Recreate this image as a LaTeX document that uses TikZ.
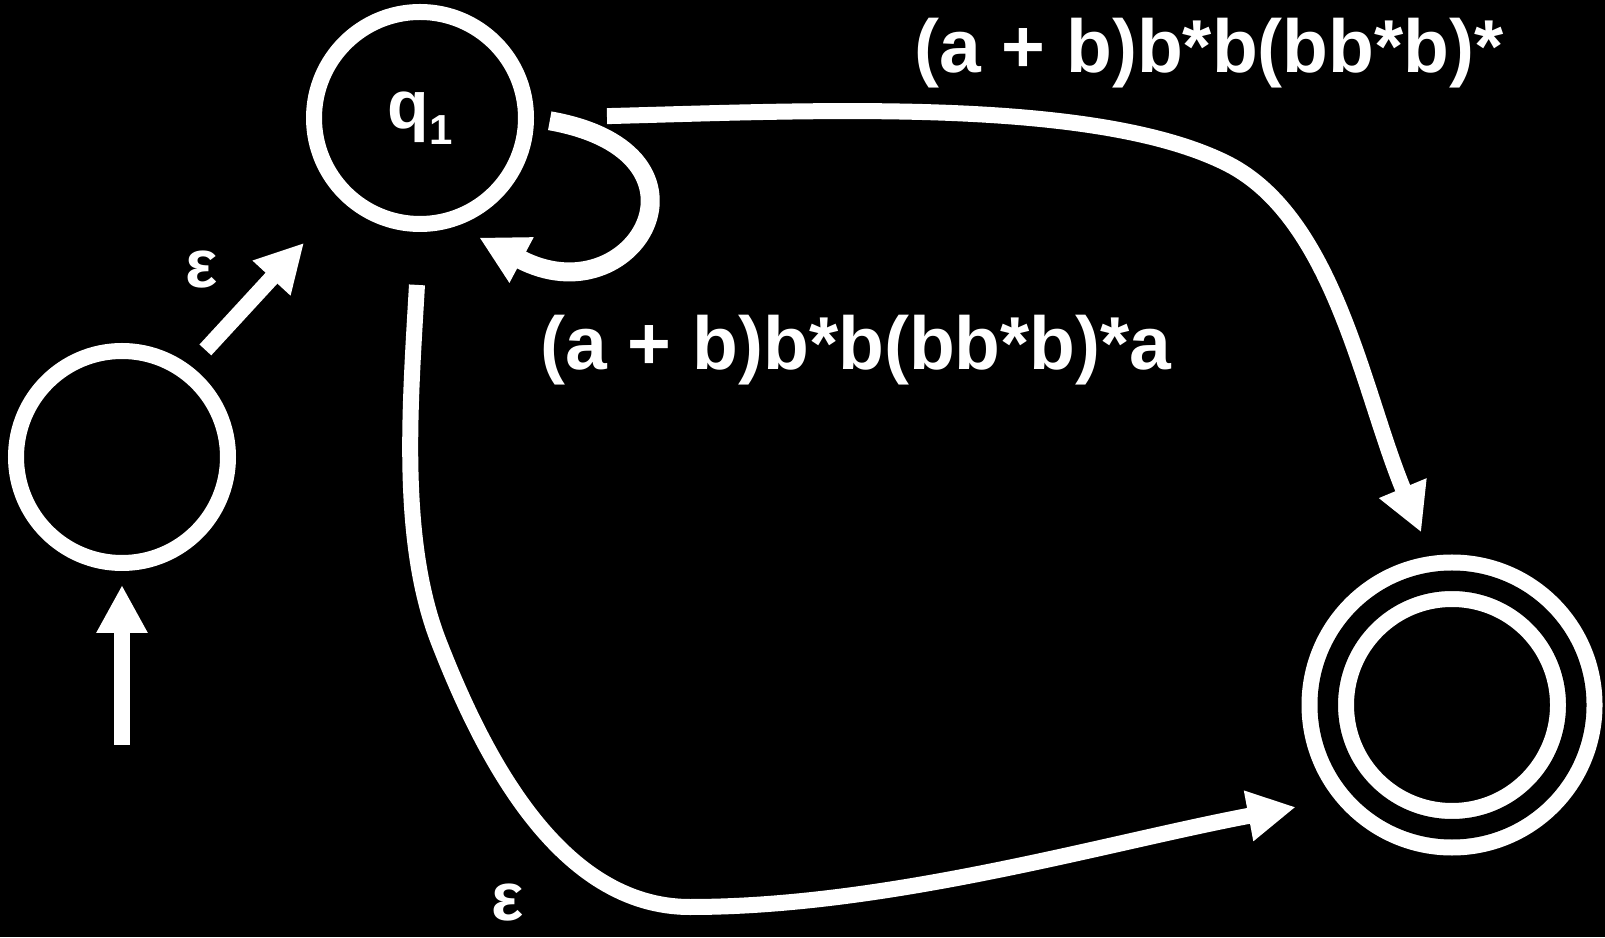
\documentclass[tikz,border=0pt]{standalone}
\usepackage{fontspec}
\setmainfont{Liberation Sans}
\usepackage{xcolor}
\usepackage{tikz}
\usetikzlibrary{arrows.meta,positioning}
\definecolor{cBg}{HTML}{000000}
\definecolor{cInk}{HTML}{FFFFFF}

\begin{document}
\begin{tikzpicture}[x=0.5pt,y=0.5pt,
  st/.style={circle,draw=cInk,line width=8pt,minimum size=106pt,inner sep=0pt},
  acc/.style={st,double=cBg,double distance=10.25pt,minimum size=124.25pt,
    outer sep=13.125pt},
  tr/.style={draw=cInk,line width=8pt,-{Triangle[length=24pt,width=24pt]}},
  lbl/.style={text=cInk,font=\bfseries\fontsize{37.5}{40}\selectfont,inner sep=0pt},
  eps/.style={text=cInk,font=\bfseries\fontsize{34}{36}\selectfont,inner sep=0pt}]

  \fill[cBg] (0,0) rectangle (1605,937);
  \useasboundingbox (0,0) rectangle (1605,937);

  % states
  \node[st] (start) at (122,480) {};
  \node[st,text=cInk,font=\bfseries\fontsize{34}{36}\selectfont] (q1) at (420,819)
    {q\raisebox{-8pt}{\fontsize{21}{21}\selectfont 1}};
  \node[acc] (final) at (1452,232) {};
  \coordinate[below=87pt of start.south] (init);

  % transitions
  \draw[tr,shorten >=7pt] (init) -- (start);
  \draw[tr,shorten <=10.9pt,shorten >=28.2pt] (start.53.4) -- (q1.227.1);
  \draw[tr,line width=9.5pt,shorten <=8pt,shorten >=12.5pt]
    (q1.0) to[out=-10,in=-28,distance=100pt] (q1.-71);
  \draw[tr,shorten <=36.5pt,shorten >=12.75pt] (q1.east)
    .. controls (807,826) and (1094,841) .. (1228,773)
    .. controls (1335,718) and (1363,544) .. (final.98.5);
  \draw[tr,shorten <=26.5pt,shorten >=20pt] (q1.south)
    .. controls (410,530) and (399,394) .. (440,292)
    .. controls (484,180) and (560,30) .. (690,30)
    .. controls (890,30) and (1109,95) .. (final.219);

  % labels
  \node[eps] (e1) at (202,667) {ε};
  \node[eps] (e2) at (508,34) {ε};
  \node[lbl,anchor=base] (rloop) at (856,567) {(a + b)b*b(bb*b)*a};
  \node[lbl,anchor=base] (rtop) at (1209,864) {(a + b)b*b(bb*b)*};
\end{tikzpicture}
\end{document}
